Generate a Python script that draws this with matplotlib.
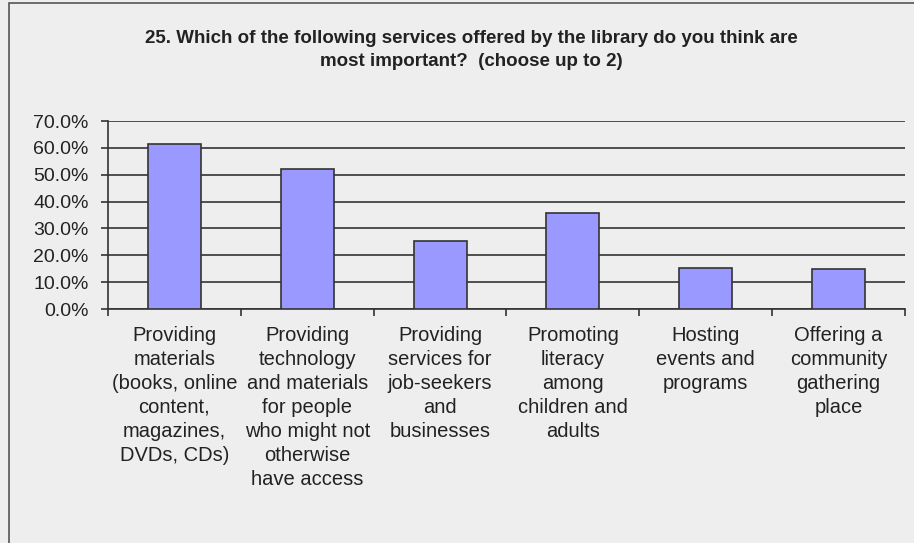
import matplotlib.pyplot as plt
from matplotlib.patches import Rectangle
from matplotlib.ticker import PercentFormatter

categories = [
    "Providing\nmaterials\n(books, online\ncontent,\nmagazines,\nDVDs, CDs)",
    "Providing\ntechnology\nand materials\nfor people\nwho might not\notherwise\nhave access",
    "Providing\nservices for\njob-seekers\nand\nbusinesses",
    "Promoting\nliteracy\namong\nchildren and\nadults",
    "Hosting\nevents and\nprograms",
    "Offering a\ncommunity\ngathering\nplace",
]
values = [61.6, 52.0, 25.4, 35.9, 15.2, 14.8]
yticks = [0, 10, 20, 30, 40, 50, 60, 70]

plt.rcParams['font.family'] = ['Liberation Sans', 'DejaVu Sans']
bg = '#eeeeee'
dark = '#333333'

fig = plt.figure(figsize=(9.14, 5.43), dpi=100, facecolor=bg)
ax = fig.add_axes([108/914, 234/543, 797/914, 188/543], facecolor=bg)

# chart frame
fig.patches.append(Rectangle((9/914, -0.1), 1.2, 1.1 - 3/543, transform=fig.transFigure,
                             fill=False, edgecolor='#555555', linewidth=1.2))

x = range(len(values))
ax.bar(x, values, width=0.4, color='#9999ff', edgecolor=dark, linewidth=1.2, zorder=3)

ax.set_ylim(0, 70)
ax.set_xlim(-0.5, len(values) - 0.5)
ax.set_yticks(yticks)
ax.yaxis.set_major_formatter(PercentFormatter(decimals=1))
ax.grid(axis='y', color=dark, linewidth=1.2, zorder=0)
ax.tick_params(axis='y', labelsize=14, colors=dark, length=5, width=1.2, labelcolor='#222222', pad=9)

ax.set_xticks([i + 0.5 for i in range(-1, len(values))])
ax.set_xticklabels([])
ax.tick_params(axis='x', length=5, width=1.2, colors=dark)
for i, lab in enumerate(categories):
    ax.text(i, -6.5, lab, ha='center', va='top', fontsize=14.5, color='#222222', linespacing=1.33)

for s in ['top', 'right']:
    ax.spines[s].set_visible(False)
for s in ['left', 'bottom']:
    ax.spines[s].set_color(dark)
    ax.spines[s].set_linewidth(1.2)

fig.text(471/914, 1 - 50/543, "25. Which of the following services offered by the library do you think are\nmost important?  (choose up to 2)",
         ha='center', va='center', fontsize=13.5, fontweight='bold', color='#222222', linespacing=1.45)

fig.savefig('out.png', dpi=100, facecolor=bg)
